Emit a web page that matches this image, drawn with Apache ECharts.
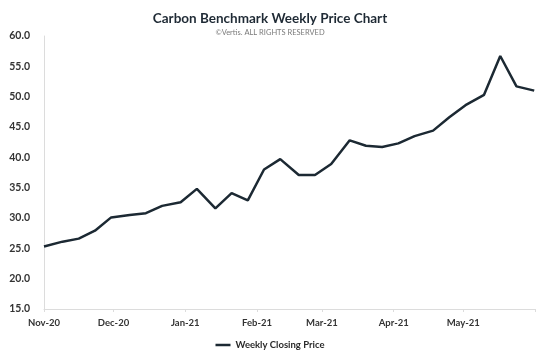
<!DOCTYPE html>
<html>
<head>
<meta charset="utf-8">
<script src="https://cdn.jsdelivr.net/npm/echarts@6/dist/echarts.min.js"></script>
<style>
html,body{margin:0;padding:0;background:#fff;}
#chart{width:540px;height:360px;}
</style>
</head>
<body>
<div id="chart"></div>
<script>
var dates = ['2020-11-01','2020-11-09','2020-11-16','2020-11-23','2020-11-30','2020-12-08','2020-12-15','2020-12-22','2020-12-30','2021-01-06',
             '2021-01-14','2021-01-21','2021-01-28','2021-02-04','2021-02-11','2021-02-19','2021-02-26','2021-03-05','2021-03-13','2021-03-20',
             '2021-03-27','2021-04-03','2021-04-10','2021-04-18','2021-04-25','2021-05-02','2021-05-10','2021-05-17','2021-05-24','2021-05-31 16:00'];
var prices = [25.3, 26.1, 26.6, 27.9, 30.1, 30.5, 30.8, 32.0, 32.6, 34.8,
              31.6, 34.1, 32.9, 38.0, 39.7, 37.1, 37.1, 38.9, 42.8, 41.9,
              41.7, 42.3, 43.5, 44.4, 46.6, 48.6, 50.3, 56.7, 51.7, 51.0];
var monthNames = ['Jan','Feb','Mar','Apr','May','Jun','Jul','Aug','Sep','Oct','Nov','Dec'];
var seriesName = 'Weekly Closing Price';
var titleText = 'Carbon Benchmark Weekly Price Chart';
var subtitleText = '\u00A9Vertis. ALL RIGHTS RESERVED';

function parseLocal(s){
  var p = s.split(/[- :]/).map(Number);
  return new Date(p[0], p[1]-1, p[2], p[3]||0, p[4]||0).getTime();
}
var seriesData = dates.map(function(d,i){ return [parseLocal(d), prices[i]]; });

var chart = echarts.init(document.getElementById('chart'));
var DAY = 86400000;
chart.setOption({
  animation:false,
  backgroundColor:'#ffffff',
  title:{
    text:titleText,
    subtext:subtitleText,
    left:'center', top:7, itemGap:3,
    textStyle:{fontFamily:'Lato', fontWeight:'bold', fontSize:13.5, color:'#1f2a35'},
    subtextStyle:{fontFamily:'Lato', fontSize:7.5, color:'#7a7a7a'}
  },
  legend:{
    bottom:5, left:'center',
    data:[{name:seriesName, icon:'rect'}],
    itemWidth:15, itemHeight:2.5, itemGap:4,
    textStyle:{fontFamily:'Lato', fontSize:9.5, color:'#2a2a2a', fontWeight:'bold'}
  },
  grid:{left:44, right:5, top:36, bottom:51, containLabel:false},
  xAxis:{
    type:'time',
    min:parseLocal('2020-11-01'),
    max:parseLocal('2021-06-01'),
    splitNumber:7,
    minInterval:28*DAY,
    maxInterval:31*DAY,
    axisLine:{lineStyle:{color:'#dcdcdc', width:1}},
    axisTick:{show:true, length:3, lineStyle:{color:'#dcdcdc'}},
    splitLine:{show:false},
    axisLabel:{
      fontFamily:'Lato', fontSize:9.5, color:'#333', fontWeight:'bold', margin:9,
      showMaxLabel:false,
      formatter:function(v){
        var d = new Date(v);
        if (d.getDate() !== 1) return '';
        if (d.getFullYear() === 2021 && d.getMonth() === 5) return '';
        return monthNames[d.getMonth()] + '-' + String(d.getFullYear()).slice(2);
      }
    }
  },
  yAxis:{
    type:'value', min:15, max:60, interval:5,
    axisLine:{show:true, lineStyle:{color:'#dcdcdc'}},
    axisTick:{show:false},
    splitLine:{show:false},
    axisLabel:{
      fontFamily:'Lato', fontSize:10.5, color:'#333', margin:14, fontWeight:'bold',
      formatter:function(v){ return v.toFixed(1); }
    }
  },
  series:[{
    name:seriesName,
    type:'line',
    data:seriesData,
    showSymbol:false,
    symbol:'none',
    lineStyle:{color:'#1c2933', width:2.5},
    itemStyle:{color:'#1c2933'}
  }]
});
</script>
</body>
</html>
